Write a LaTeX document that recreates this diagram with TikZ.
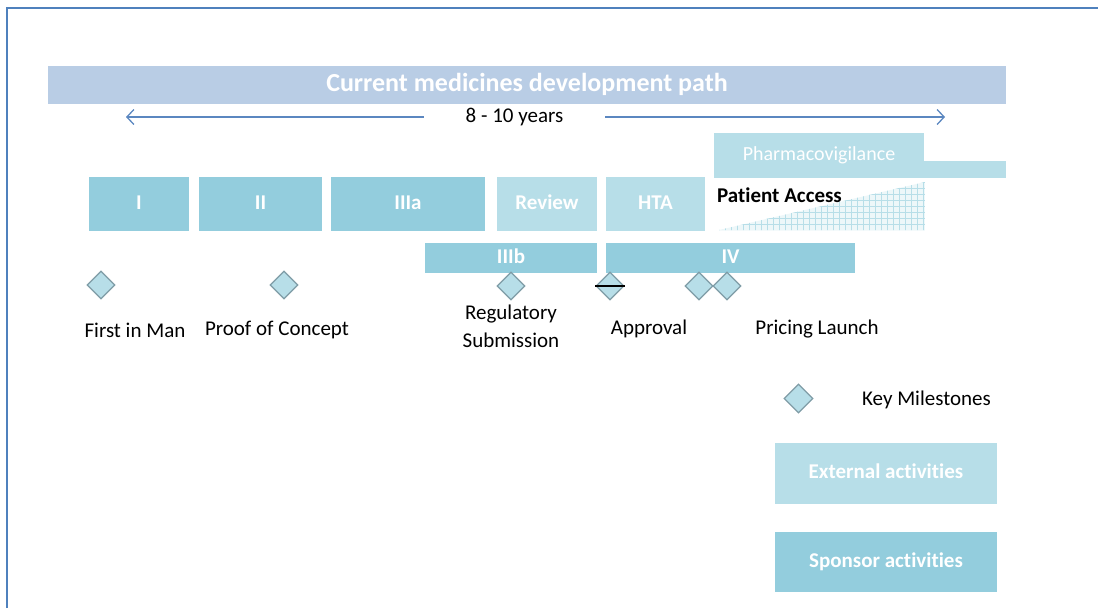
\documentclass[tikz,border=0pt]{standalone}
\usepackage{fontspec}
\setmainfont{Carlito}[Ligatures=NoCommon, Contextuals=NoAlternate]
\usetikzlibrary{shapes.geometric,arrows.meta}
\definecolor{sponsorblue}{HTML}{93CDDD}
\definecolor{externalblue}{HTML}{B7DEE8}
\definecolor{titleblue}{HTML}{B9CDE5}
\definecolor{framecol}{HTML}{4F81BD}
\definecolor{arrowcol}{HTML}{5B87C0}
\definecolor{diamondline}{HTML}{7F9CA6}

\begin{document}
\begin{tikzpicture}[x=1pt,y=-1pt,
    box/.style={inner sep=0pt, outer sep=0pt, text=white, text height=14, text depth=4, font=\fontsize{21}{24}\selectfont\bfseries},
    sponsor/.style={box, fill=sponsorblue},
    external/.style={box, fill=externalblue},
    milestone/.style={diamond, draw=diamondline, line width=1.2, fill=externalblue, minimum size=28, inner sep=0pt},
    lbl/.style={inner sep=0pt, text=black, align=center, font=\fontsize{21}{28}\selectfont}]
    \useasboundingbox (0,0) rectangle (1098,608);
    \draw[framecol, line width=2.5] (7,608) -- (7,8) -- (1098,8);

    \node[box, fill=titleblue, minimum width=958, minimum height=38, text height=17, text depth=5, font=\fontsize{26}{28}\selectfont\bfseries] (title) at (527,85) {Current medicines development path};
    \node[lbl, minimum width=181] (yrs) at (514.5,117) {8 - 10 years};
    \coordinate (lt) at (126,117);
    \coordinate (rt) at (945,117);
    \draw[arrowcol, line width=1.3, -{Straight Barb[length=7,width=15]}] (yrs.west) -- (lt);
    \draw[arrowcol, line width=1.3, -{Straight Barb[length=7,width=15]}] (yrs.east) -- (rt);

    % pharmacovigilance runs on past the end
    \node[external, minimum width=210, minimum height=45, font=\fontsize{20}{24}\selectfont] (pv) at (819,155.5) {Pharmacovigilance};
    \fill[externalblue] (924,161) rectangle (1006,178);

    \node[sponsor, minimum width=100, minimum height=54] (ph1) at (139,204) {I};
    \node[sponsor, minimum width=123, minimum height=54] (ph2) at (260.5,204) {II};
    \node[sponsor, minimum width=154, minimum height=54] (ph3a) at (408,204) {IIIa};
    \node[external, minimum width=100, minimum height=54] (rev) at (547,204) {Review};
    \node[external, minimum width=99, minimum height=54] (hta) at (655.5,204) {HTA};
    \node[sponsor, minimum width=172, minimum height=30] (ph3b) at (511,258) {IIIb};
    \node[sponsor, minimum width=249, minimum height=30] (ph4) at (730.5,258) {IV};

    \begin{scope}
        \clip (719,230) -- (925,182) -- (925,230) -- cycle;
        \fill[externalblue!25] (714,180) rectangle (925,231);
        \foreach \x in {719,725,...,925} \draw[externalblue, line width=0.8] (\x,180) -- (\x,231);
        \foreach \y in {182,188,...,231} \draw[externalblue, line width=0.8] (714,\y) -- (925,\y);
    \end{scope}
    \node[lbl, anchor=west, font=\fontsize{21}{24}\selectfont\bfseries] (pa) at (717,195) {Patient Access};

    \node[milestone] (fim) at (101,285) {};
    \node[milestone] (poc) at (284,285) {};
    \node[milestone] (reg) at (511,286) {};
    \node[milestone] (apv) at (610,286) {};
    \draw[black, line width=1.3] (apv.west) -- (apv.east);
    \node[milestone] (pr1) at (699,286) {};
    \node[milestone] (pr2) at (727,286) {};

    \node[lbl] (fimt) at (135,330) {First in Man};
    \node[lbl] (poct) at (277,330) {Proof of Concept};
    \node[lbl] (regt) at (511,326) {Regulatory\\Submission};
    \node[lbl] (apvt) at (649,329) {Approval};
    \node[lbl] (prt) at (817,329) {Pricing Launch};

    % legend
    \node[milestone, minimum size=29] (key) at (798.5,398.5) {};
    \node[lbl] (keyt) at (926.5,400) {Key Milestones};
    \node[external, minimum width=222, minimum height=61] (ext) at (886,473.5) {External activities};
    \node[sponsor, minimum width=222, minimum height=60] (spo) at (886,562) {Sponsor activities};
\end{tikzpicture}
\end{document}
